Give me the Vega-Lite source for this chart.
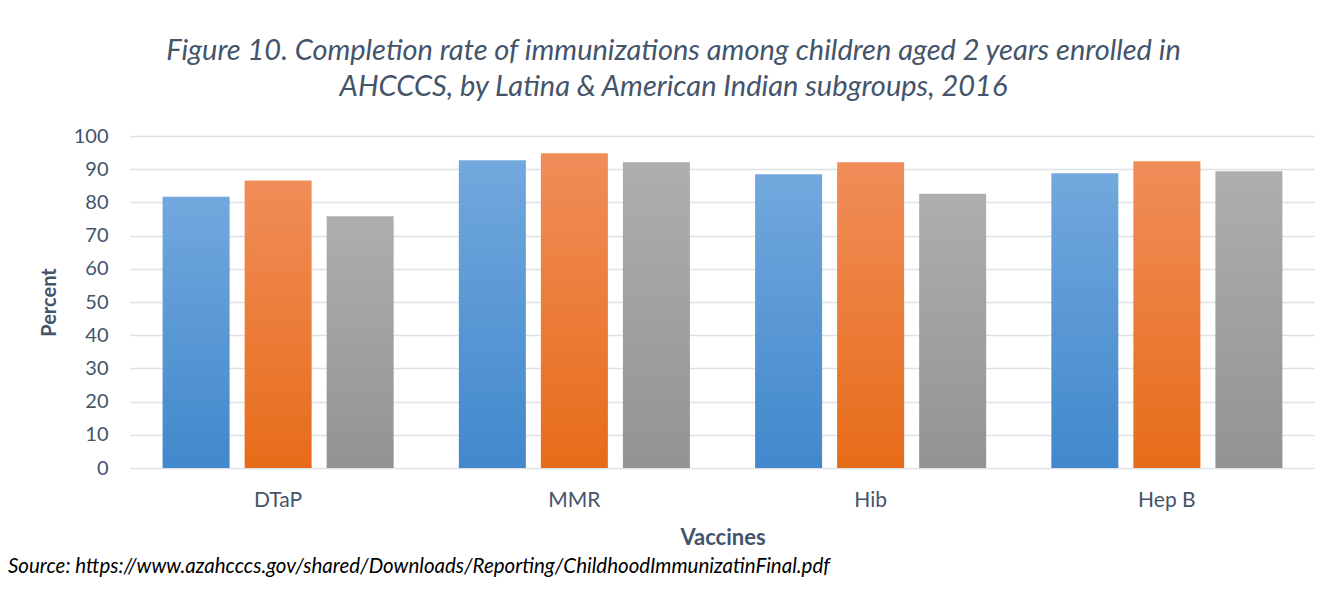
{
  "$schema": "https://vega.github.io/schema/vega-lite/v6.json",
  "autosize": {"type": "pad"},
  "padding": {"left": 8, "top": 37, "right": 0, "bottom": 0},
  "background": "white",
  "title": {
    "text": ["Figure 10. Completion rate of immunizations among children aged 2 years enrolled in", "AHCCCS, by Latina & American Indian subgroups, 2016"],
    "font": "Lato",
    "fontSize": 29,
    "fontStyle": "italic",
    "fontWeight": "normal",
    "color": "#44546a",
    "lineHeight": 36,
    "anchor": "middle",
    "dx": 12,
    "offset": 24
  },
  "config": {
    "view": {"stroke": null},
    "font": "Lato"
  },
  "vconcat": [
    {
      "width": 1185,
      "height": 332,
      "title": {
        "text": "Source: https://www.azahcccs.gov/shared/Downloads/Reporting/ChildhoodImmunizatinFinal.pdf",
        "orient": "bottom",
        "anchor": "start",
        "frame": "group",
        "dx": -122,
        "offset": 9,
        "font": "Lato",
        "fontSize": 20.5,
        "fontStyle": "italic",
        "fontWeight": "normal",
        "color": "#000000"
      },
      "data": {
        "values": [
          {"vaccine": "DTaP", "group": "Latina", "percent": 81.7},
          {"vaccine": "DTaP", "group": "American Indian", "percent": 86.6},
          {"vaccine": "DTaP", "group": "All", "percent": 75.8},
          {"vaccine": "MMR", "group": "Latina", "percent": 92.7},
          {"vaccine": "MMR", "group": "American Indian", "percent": 94.8},
          {"vaccine": "MMR", "group": "All", "percent": 92.1},
          {"vaccine": "Hib", "group": "Latina", "percent": 88.5},
          {"vaccine": "Hib", "group": "American Indian", "percent": 92.1},
          {"vaccine": "Hib", "group": "All", "percent": 82.6},
          {"vaccine": "Hep B", "group": "Latina", "percent": 88.8},
          {"vaccine": "Hep B", "group": "American Indian", "percent": 92.4},
          {"vaccine": "Hep B", "group": "All", "percent": 89.4}
        ]
      },
      "encoding": {
        "x": {
          "field": "vaccine",
          "type": "nominal",
          "scale": {"domain": ["DTaP", "MMR", "Hib", "Hep B"], "paddingInner": 0.22, "paddingOuter": 0.11},
          "axis": {
            "title": "Vaccines",
            "labelAngle": 0,
            "labelFontSize": 21,
            "labelColor": "#44546a",
            "labelPadding": 21,
            "ticks": false,
            "domain": false,
            "titleFontSize": 22,
            "titleFontWeight": "bold",
            "titleColor": "#44546a",
            "titlePadding": 17
          }
        },
        "xOffset": {
          "field": "group",
          "type": "nominal",
          "scale": {"domain": ["Latina", "American Indian", "All"], "paddingInner": 0.183, "paddingOuter": 0}
        },
        "y": {
          "field": "percent",
          "type": "quantitative",
          "scale": {"domain": [0, 100], "nice": false},
          "axis": {
            "title": "Percent",
            "values": [0, 10, 20, 30, 40, 50, 60, 70, 80, 90, 100],
            "labelFontSize": 20,
            "labelColor": "#44546a",
            "labelPadding": 22,
            "ticks": false,
            "domain": false,
            "grid": true,
            "gridColor": "#dde1e6",
            "gridWidth": 1.5,
            "titleFontSize": 20,
            "titleFontWeight": "bold",
            "titleColor": "#44546a",
            "titlePadding": 14
          }
        }
      },
      "layer": [
        {
          "transform": [{"filter": "datum.group === 'Latina'"}],
          "mark": {
            "type": "bar",
            "color": {"gradient": "linear", "x1": 0, "y1": 0, "x2": 0, "y2": 1,
              "stops": [{"offset": 0, "color": "#72a8dd"}, {"offset": 1, "color": "#4188cc"}]}
          }
        },
        {
          "transform": [{"filter": "datum.group === 'American Indian'"}],
          "mark": {
            "type": "bar",
            "color": {"gradient": "linear", "x1": 0, "y1": 0, "x2": 0, "y2": 1,
              "stops": [{"offset": 0, "color": "#f08d59"}, {"offset": 1, "color": "#e76c19"}]}
          }
        },
        {
          "transform": [{"filter": "datum.group === 'All'"}],
          "mark": {
            "type": "bar",
            "color": {"gradient": "linear", "x1": 0, "y1": 0, "x2": 0, "y2": 1,
              "stops": [{"offset": 0, "color": "#aeaeae"}, {"offset": 1, "color": "#939393"}]}
          }
        }
      ]
    }
  ]
}
